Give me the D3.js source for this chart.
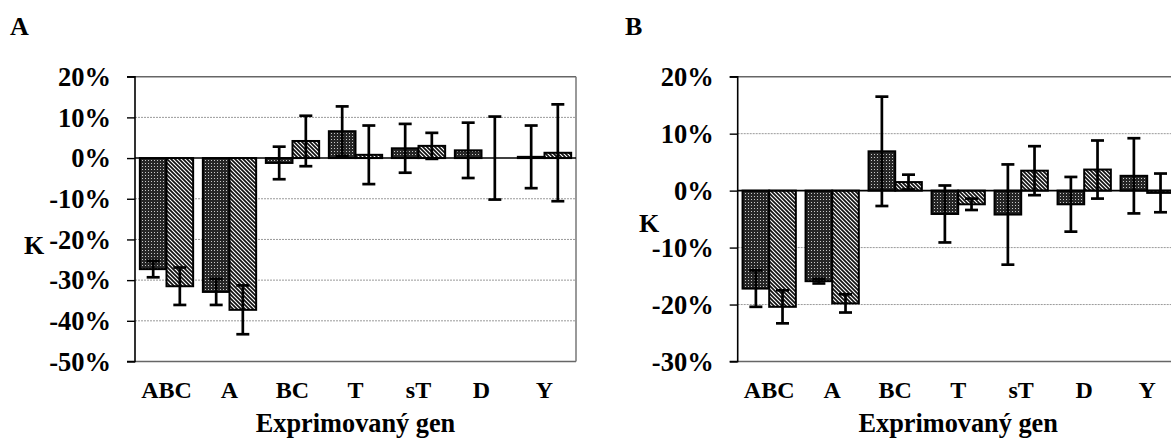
<!DOCTYPE html>
<html><head><meta charset="utf-8">
<script src="https://cdn.jsdelivr.net/npm/d3@7"></script>
<style>
body{margin:0;background:#fff;}
svg text{font-family:"Liberation Serif","Tinos","Times New Roman","Nimbus Roman","DejaVu Serif",serif !important;font-weight:bold;fill:#000;}
</style></head>
<body><svg id="c" width="1171" height="438"></svg>
<script>
const categories = ["ABC","A","BC","T","sT","D","Y"];
const aDark = [-27.3, -32.9, -1.2, 6.6, 2.4, 1.9, 0.3];
const aDarkErr = [2.0, 3.2, 4.0, 6.1, 6.0, 6.8, 7.7];
const aHatch = [-31.5, -37.3, 4.2, 0.8, 3.0, 0.0, 1.3];
const aHatchErr = [4.6, 6.0, 6.2, 7.2, 3.2, 10.2, 11.9];
const bDark = [-17.2, -15.9, 6.9, -4.1, -4.2, -2.4, 2.6];
const bDarkErr = [3.2, 0.4, 9.6, 5.0, 8.8, 4.8, 6.6];
const bHatch = [-20.4, -19.8, 1.5, -2.4, 3.5, 3.7, -0.4];
const bHatchErr = [2.9, 1.6, 1.3, 1.0, 4.3, 5.1, 3.4];
const aTicks = [20, 10, 0, -10, -20, -30, -40, -50];
const bTicks = [20, 10, 0, -10, -20, -30];
const xTitle = "Exprimovaný gen";
const yTitle = "K";

const svg = d3.select("#c");
const defs = svg.append("defs");
const pd = defs.append("pattern").attr("id","dark").attr("patternUnits","userSpaceOnUse").attr("width",3).attr("height",3);
pd.append("rect").attr("width",3).attr("height",3).attr("fill","#262626");
pd.append("rect").attr("x",1).attr("y",1).attr("width",1).attr("height",1).attr("fill","#c8c8c8");
const ph = defs.append("pattern").attr("id","hatch").attr("patternUnits","userSpaceOnUse").attr("width",4).attr("height",4);
ph.append("rect").attr("width",4).attr("height",4).attr("fill","#fff");
ph.append("path").attr("d","M-1,-1L5,5M-1,3L1,5M3,-1L5,1").attr("stroke","#111").attr("stroke-width",1.7);

function panel(opt){
  const g = svg.append("g");
  const x0 = opt.left, x1 = opt.left + 441, yTop = 76.7, yBot = 361.5;
  const y = d3.scaleLinear().domain([d3.min(opt.ticks), d3.max(opt.ticks)]).range([yBot, yTop]);
  const x = d3.scaleBand().domain(categories).range([x0, x1]).paddingInner(0.154).paddingOuter(0.077);
  const xs = d3.scaleBand().domain([0,1]).range([0, x.bandwidth()]);
  const isEdge = d => d===d3.max(opt.ticks)||d===d3.min(opt.ticks);
  g.selectAll(".grid").data(opt.ticks.filter(t=>t!==0)).join("line")
    .attr("x1",x0).attr("x2",x1).attr("y1",d=>y(d)).attr("y2",d=>y(d))
    .attr("stroke",d=> isEdge(d)?"#666":"#9a9a9a")
    .attr("stroke-width",d=> isEdge(d)?1.6:1)
    .attr("stroke-dasharray",d=> isEdge(d)?null:"2,1");
  g.append("line").attr("x1",x1).attr("x2",x1).attr("y1",yTop).attr("y2",yBot).attr("stroke","#777").attr("stroke-width",1.5);
  const yAxis = d3.axisLeft(y).tickValues(opt.ticks).tickSize(8).tickPadding(16).tickFormat(d=>d+"%");
  const ga = g.append("g").attr("transform",`translate(${x0},0)`).call(yAxis);
  ga.attr("font-family",null).attr("font-size",null);
  ga.select(".domain").attr("stroke","#000").attr("stroke-width",1.6).attr("d",`M-8,${yTop}H0V${yBot}H-8`);
  ga.selectAll(".tick line").attr("stroke","#000").attr("stroke-width",1.4);
  ga.selectAll(".tick text").attr("font-size",26.5).attr("fill","#000").attr("dy","0.33em");
  const series = [{vals:opt.dark, err:opt.darkErr, fill:"url(#dark)", i:0},{vals:opt.hatch, err:opt.hatchErr, fill:"url(#hatch)", i:1}];
  series.forEach(s=>{
    const data = categories.map((c,k)=>({c, v:s.vals[k], e:s.err[k]}));
    g.selectAll(null).data(data).join("rect")
      .attr("x",d=>x(d.c)+xs(s.i)).attr("width",xs.bandwidth())
      .attr("y",d=>y(Math.max(0,d.v))).attr("height",d=>Math.abs(y(d.v)-y(0)))
      .attr("fill",s.fill).attr("stroke","#000").attr("stroke-width",2);
  });
  g.append("line").attr("x1",x0).attr("x2",x1).attr("y1",y(0)).attr("y2",y(0)).attr("stroke","#000").attr("stroke-width",1.6);
  series.forEach(s=>{
    const data = categories.map((c,k)=>({c, v:s.vals[k], e:s.err[k]}));
    const eg = g.selectAll(null).data(data).join("g")
      .attr("transform",d=>`translate(${x(d.c)+xs(s.i)+xs.bandwidth()/2},0)`);
    eg.append("line").attr("y1",d=>y(d.v+d.e)).attr("y2",d=>y(d.v-d.e)).attr("stroke","#000").attr("stroke-width",2.7);
    eg.append("line").attr("x1",-6.5).attr("x2",6.5).attr("y1",d=>y(d.v+d.e)).attr("y2",d=>y(d.v+d.e)).attr("stroke","#000").attr("stroke-width",2.7);
    eg.append("line").attr("x1",-6.5).attr("x2",6.5).attr("y1",d=>y(d.v-d.e)).attr("y2",d=>y(d.v-d.e)).attr("stroke","#000").attr("stroke-width",2.7);
  });
  g.selectAll(null).data(categories).join("text")
    .attr("x",d=>x(d)+x.bandwidth()/2).attr("y",398).attr("text-anchor","middle").attr("font-size",24).text(d=>d);
  g.append("text").attr("x",(x0+x1)/2).attr("y",432).attr("text-anchor","middle").attr("font-size",26.3).text(xTitle);
  g.append("text").attr("x",opt.kx).attr("y",opt.ky).attr("font-size",26).text(yTitle);
  g.append("text").attr("x",opt.lx).attr("y",35).attr("font-size",26).text(opt.label);
}
panel({left:135, ticks:aTicks, dark:aDark, darkErr:aDarkErr, hatch:aHatch, hatchErr:aHatchErr, kx:24, ky:254, lx:10, label:"A"});
panel({left:737.7, ticks:bTicks, dark:bDark, darkErr:bDarkErr, hatch:bHatch, hatchErr:bHatchErr, kx:639, ky:232, lx:625, label:"B"});
</script></body></html>
